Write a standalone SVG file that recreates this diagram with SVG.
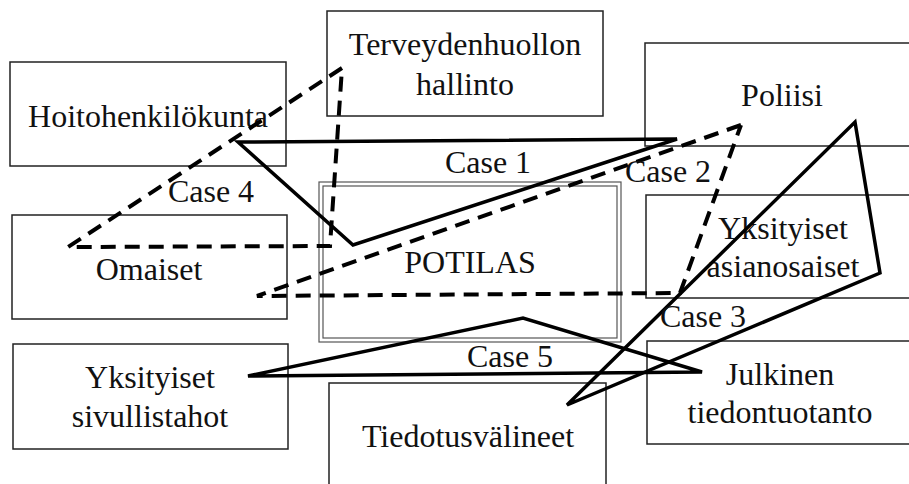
<svg xmlns="http://www.w3.org/2000/svg" width="909" height="484" viewBox="0 0 909 484">
<style>
.box{fill:none;stroke:#222;stroke-width:1.5}
.dbl{fill:none;stroke:#555;stroke-width:1.2}
text{font-family:"Liberation Serif","Times New Roman",serif;font-size:32px;fill:#111;text-anchor:middle}
.solid{fill:none;stroke:#000;stroke-width:3.5;stroke-linejoin:miter}
.dash{fill:none;stroke:#000;stroke-width:4;stroke-dasharray:15 9}
</style>
<rect width="909" height="484" fill="#fff"/>
<g id="hoitohenkilokunta"><rect class="box" x="10" y="62" width="276" height="104"/><text x="148" y="127">Hoitohenkilökunta</text></g>
<g id="terveydenhuollon"><rect class="box" x="327" y="11" width="276" height="105"/><text x="465" y="55">Terveydenhuollon</text><text x="465" y="95">hallinto</text></g>
<g id="poliisi"><rect class="box" x="645" y="43" width="270" height="103"/><text x="782" y="106">Poliisi</text></g>
<g id="yksityiset-asianosaiset"><rect class="box" x="646" y="195" width="270" height="103"/><text x="783" y="239">Yksityiset</text><text x="783" y="277">asianosaiset</text></g>
<g id="omaiset"><rect class="box" x="12" y="215" width="275" height="104"/><text x="149" y="280">Omaiset</text></g>
<g id="potilas"><rect class="dbl" x="319" y="182" width="302" height="160"/><rect class="dbl" x="323" y="186" width="294" height="152"/><text x="470" y="273">POTILAS</text></g>
<g id="yksityiset-sivullistahot"><rect class="box" x="13" y="344" width="275" height="105"/><text x="150" y="388">Yksityiset</text><text x="150" y="427">sivullistahot</text></g>
<g id="tiedotusvalineet"><rect class="box" x="329" y="383" width="277" height="110"/><text x="468" y="447">Tiedotusvälineet</text></g>
<g id="julkinen"><rect class="box" x="647" y="341" width="270" height="103"/><text x="780" y="385">Julkinen</text><text x="780" y="423">tiedontuotanto</text></g>
<g id="connectors">
<polygon class="solid" points="238,142 677,139 353,245"/>
<polyline class="dash" points="741,125 257,296 680,293 741,125"/>
<polyline class="dash" points="342,68 68,247 330,246 342,68"/>
<polygon class="solid" points="855,122 880,273 567,405"/>
<polygon class="solid" points="248,376 523,318 702,372"/>
</g>
<g id="labels">
<text x="488" y="173">Case 1</text>
<text x="668" y="182">Case 2</text>
<text x="703" y="327">Case 3</text>
<text x="211" y="202">Case 4</text>
<text x="510" y="367">Case 5</text>
</g>
</svg>
